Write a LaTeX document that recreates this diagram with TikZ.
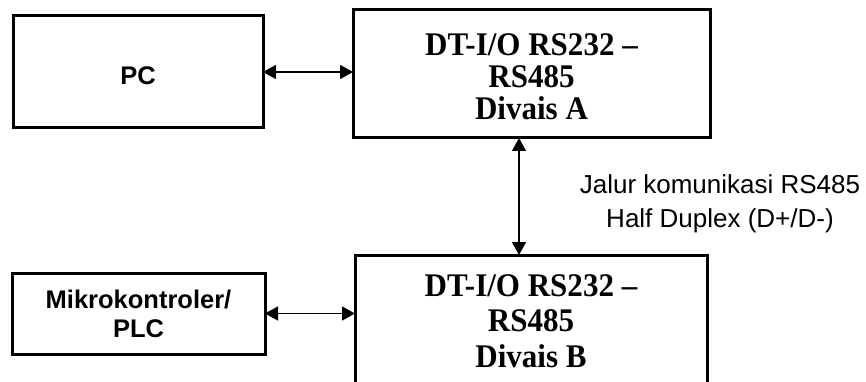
\documentclass[tikz,border=0pt]{standalone}
\usepackage{fontspec}
\setmainfont{Liberation Serif}
\newfontfamily\timesn[FakeStretch=0.94]{Liberation Serif}
\newfontfamily\arialf{Liberation Sans}
\usetikzlibrary{arrows.meta}
\begin{document}
\begin{tikzpicture}[x=1pt,y=-1pt,
  box/.style={draw, line width=3pt, inner sep=0pt, outer sep=0pt},
  devtext/.style={font=\timesn\bfseries\fontsize{33}{32}\selectfont, align=center, inner sep=0pt},
  devtextb/.style={font=\timesn\bfseries\fontsize{33}{35.5}\selectfont, align=center, inner sep=0pt},
  sanstext/.style={font=\arialf\bfseries\fontsize{25.5}{29}\selectfont, align=center},
  arr/.style={line width=1.5pt, {Triangle[length=13pt,width=14pt]}-{Triangle[length=13pt,width=14pt]}},
]
\useasboundingbox (0,0) rectangle (866,382);
\clip (0,0) rectangle (866,382);
% boxes
\node[box, minimum width=250pt, minimum height=112pt, sanstext, text height=26pt, text depth=0pt] (pc) at (138,72) {PC};
\node[box, minimum width=357pt, minimum height=128pt] (a) at (531.5,74) {};
\node[devtext] (atext) at (531.5,76.6) {DT-I/O RS232 –\\RS485\\Divais A};
\node[box, minimum width=253pt, minimum height=81pt, sanstext] (mk) at (138.5,313.5) {Mikrokontroler/\\PLC};
\node[box, minimum width=352pt, minimum height=134pt] (b) at (531,322) {};
\node[devtextb] (btext) at (531,321) {DT-I/O RS232 –\\RS485\\Divais B};
% label
\node[font=\arialf\fontsize{26}{34}\selectfont, align=center, inner sep=0pt] (lbl) at (720,203.5) {Jalur komunikasi RS485\\Half Duplex (D+/D-)};
% connectors
\draw[arr] (pc.east) -- (pc.east -| a.west);
\draw[arr] (mk.east) -- (mk.east -| b.west);
\coordinate (va) at (519,0);
\draw[arr] (a.south -| va) -- (b.north -| va);
\end{tikzpicture}
\end{document}
